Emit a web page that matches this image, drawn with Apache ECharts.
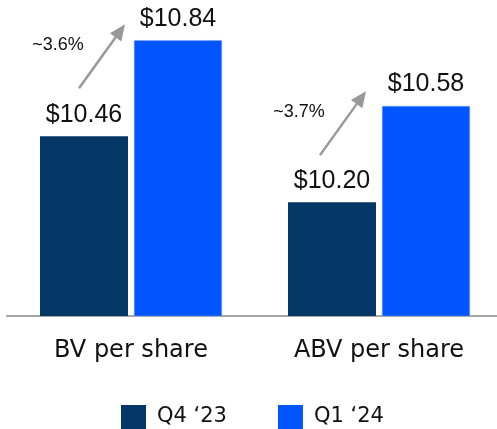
<!DOCTYPE html>
<html>
<head>
<meta charset="utf-8">
<script src="https://cdn.jsdelivr.net/npm/echarts@6/dist/echarts.min.js"></script>
<style>html,body{margin:0;padding:0;background:#fff;}#main{width:497px;height:429px;}</style>
</head>
<body>
<div id="main"></div>
<script>
const categories = ['BV per share', 'ABV per share'];
const seriesNames = ['Q4 \u201823', 'Q1 \u201824'];
const q4Values = [10.46, 10.20];
const q1Values = [10.84, 10.58];
const changeLabels = ['~3.6%', '~3.7%'];

const chart = echarts.init(document.getElementById('main'));
const labelFmt = p => '$' + p.value.toFixed(2);
const valueLabel = {
  show: true, position: 'top', distance: 9, formatter: labelFmt,
  color: '#111', fontSize: 25, fontFamily: 'Liberation Sans, Arial, sans-serif'
};
chart.setOption({
  animation: false,
  grid: { left: 7, width: 496, top: 25, bottom: 113, outerBoundsMode: 'none', containLabel: false },
  legend: {
    top: 400, left: 116, itemWidth: 25, itemHeight: 24, itemGap: 51,
    icon: 'rect', itemStyle: { borderWidth: 0 },
    textStyle: { fontSize: 21, color: '#111', fontFamily: 'DejaVu Sans', padding: [0, 0, 0, 6] },
    data: seriesNames
  },
  xAxis: {
    type: 'category', data: categories,
    axisLine: { lineStyle: { color: '#a6a6a6', width: 2 } },
    axisTick: { show: false },
    axisLabel: { fontSize: 24, color: '#111', margin: 23, fontFamily: 'DejaVu Sans' }
  },
  yAxis: { type: 'value', min: 9.75, max: 10.9, show: false, splitLine: { show: false } },
  series: [
    { name: seriesNames[0], type: 'bar', data: q4Values, barWidth: 88, barGap: '6.8%',
      itemStyle: { color: '#053766' }, label: valueLabel },
    { name: seriesNames[1], type: 'bar', data: q1Values, barWidth: 88,
      itemStyle: { color: '#0055ff', borderColor: '#7fa6ff', borderWidth: 0.5 }, label: valueLabel }
  ]
});

// annotation arrows anchored to bar positions
const startOff = [[-5, -48], [-12, -47]];
function drawArrows() {
  const els = [];
  for (let i = 0; i < categories.length; i++) {
    const c = chart.convertToPixel({ xAxisIndex: 0 }, categories[i]);
    const y0 = chart.convertToPixel({ yAxisIndex: 0 }, q4Values[i]);
    const q4c = c - 47;
    const sx = q4c + startOff[i][0], sy = y0 + startOff[i][1];
    const ex = sx + 46, ey = sy - 64;
    const ang = Math.atan2(ey - sy, ex - sx);
    const hl = 16, hw = 7;
    const bx = ex - hl * Math.cos(ang), by = ey - hl * Math.sin(ang);
    const px = -Math.sin(ang), py = Math.cos(ang);
    els.push({ type: 'line', shape: { x1: sx, y1: sy, x2: bx, y2: by },
      style: { stroke: '#999', lineWidth: 2.5 } });
    els.push({ type: 'polygon', shape: { points: [[ex, ey], [bx + px * hw, by + py * hw], [bx - px * hw, by - py * hw]] },
      style: { fill: '#999' } });
    els.push({ type: 'text', x: sx - 21, y: sy - 43,
      style: { text: changeLabels[i], fontSize: 18, fill: '#111', align: 'center', verticalAlign: 'middle',
        fontFamily: 'Liberation Sans, Arial, sans-serif' } });
  }
  chart.setOption({ graphic: els });
}
drawArrows();
</script>
</body>
</html>
